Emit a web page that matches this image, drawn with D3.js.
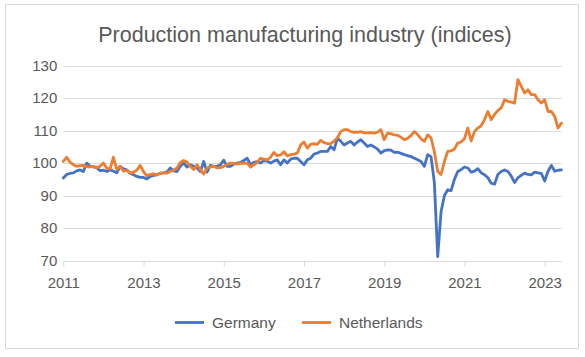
<!DOCTYPE html>
<html>
<head>
<meta charset="utf-8">
<script src="https://cdn.jsdelivr.net/npm/d3@7"></script>
<style>
  html, body { margin: 0; padding: 0; background: #fff; }
  svg { display: block; }
  text { font-family: "Liberation Sans", Arial, sans-serif; }
</style>
</head>
<body>
<svg id="chart" width="585" height="357"></svg>
<script>
// ---- Data (monthly, Jan 2011 .. Jun 2023) ----
const title = "Production manufacturing industry (indices)";
const seriesNames = ["Germany", "Netherlands"];
const seriesColors = ["#4472C4", "#ED7D31"];
const yearLabels = ["2011", "2013", "2015", "2017", "2019", "2021", "2023"];
const yTicks = [70, 80, 90, 100, 110, 120, 130];

const germany = [
  95.4, 96.5, 96.8, 97.0, 97.6, 97.9, 97.4, 100.0, 99.0, 98.8, 98.5, 97.7,
  97.8, 97.4, 97.9, 97.5, 97.0, 99.0, 98.2, 97.9, 96.9, 96.4, 95.9, 95.6,
  95.6, 95.1, 95.9, 96.2, 96.4, 96.9, 97.0, 97.2, 98.5, 97.6, 97.4, 99.0,
  100.0, 98.8, 99.5, 99.0, 98.5, 97.4, 100.5, 97.2, 99.3, 99.0, 99.0, 99.5,
  100.9, 99.0, 99.0, 99.7, 100.0, 100.2, 100.8, 101.5, 99.5, 100.2, 100.5, 100.0,
  100.8, 100.6, 100.0, 100.6, 101.0, 99.5, 101.0, 100.0, 101.2, 101.5, 101.5, 100.5,
  99.5, 101.0, 101.5, 102.8, 103.1, 103.6, 103.6, 103.6, 105.1, 104.1, 107.7, 106.7,
  105.6, 106.2, 106.7, 105.6, 106.5, 107.2, 106.2, 105.1, 105.6, 105.0, 104.3, 103.1,
  103.8, 104.1, 104.0, 103.3, 103.4, 103.0, 102.6, 102.3, 102.0, 101.5, 101.0, 100.5,
  99.0, 102.6, 102.0, 94.0, 71.2, 85.0, 90.0, 91.8, 91.5, 95.0, 97.4, 98.0,
  98.8, 98.5, 97.2, 97.5, 98.3, 97.0, 96.4, 95.5, 93.8, 93.5, 96.5, 97.4,
  97.9, 97.4, 96.0, 94.0, 95.5, 96.2, 96.9, 96.5, 96.4, 97.2, 97.0, 96.8,
  94.5, 97.5, 99.3, 97.5, 97.8, 97.9
];

const netherlands = [
  100.5, 101.8, 100.3, 99.5, 99.0, 99.2, 99.3, 98.9, 98.8, 99.0, 98.6, 99.0,
  100.0, 98.4, 98.2, 101.8, 98.0, 99.0, 97.5, 97.8, 96.9, 97.2, 97.8, 99.3,
  97.4, 96.1, 96.5, 96.7, 96.4, 96.8, 97.0, 96.9, 97.4, 97.8, 98.5, 100.2,
  100.8, 100.3, 99.0, 98.0, 99.5, 98.0, 96.6, 98.5, 98.8, 99.0, 98.5, 98.6,
  99.0, 99.6, 100.0, 99.9, 99.7, 100.0, 99.9, 100.0, 98.8, 99.5, 100.2, 101.5,
  101.2, 101.0, 101.8, 103.3, 102.3, 102.5, 103.5, 102.2, 102.6, 102.8, 103.1, 105.6,
  106.5, 104.6, 105.8, 106.0, 105.8, 107.0, 106.3, 106.0, 106.0, 106.8, 107.8, 109.7,
  110.3, 110.3, 109.7, 109.5, 109.5, 109.7, 109.3, 109.3, 109.4, 109.2, 109.5, 110.3,
  107.2, 109.2, 109.0, 108.7, 108.6, 108.0, 107.2, 107.6, 108.5, 109.7, 108.8, 107.5,
  106.7, 108.7, 107.8, 103.5, 97.4, 96.5, 100.5, 103.6, 103.8, 104.3, 106.2, 106.5,
  107.5, 110.8, 106.8, 109.7, 110.8, 111.5, 113.4, 115.9, 113.4, 115.0, 116.2, 117.0,
  119.5, 119.0, 118.8, 118.5, 125.7, 123.6, 121.6, 122.6, 121.1, 121.1, 119.5, 118.5,
  119.5, 115.9, 115.9, 114.4, 110.8, 112.3
];

// ---- Layout ----
const svg = d3.select("#chart");
const plot = { left: 63.3, right: 561.4, top: 65.7, bottom: 260.5 };

// chart border
svg.append("rect")
  .attr("x", 5.5).attr("y", 4.5)
  .attr("width", 573).attr("height", 344)
  .attr("fill", "#fff").attr("stroke", "#D9D9D9").attr("stroke-width", 1);

// title
svg.append("text")
  .attr("x", 305).attr("y", 42)
  .attr("text-anchor", "middle")
  .attr("font-size", 21.5)
  .attr("fill", "#595959")
  .text(title);

const n = germany.length;
const x = d3.scaleLinear().domain([0, n - 1]).range([plot.left, plot.right]);
const y = d3.scaleLinear().domain([70, 130]).range([plot.bottom, plot.top]);

// gridlines
svg.append("g")
  .selectAll("line")
  .data(yTicks.filter(d => d !== 70))
  .join("line")
  .attr("x1", plot.left).attr("x2", plot.right)
  .attr("y1", d => Math.round(y(d)) + 0.5).attr("y2", d => Math.round(y(d)) + 0.5)
  .attr("stroke", "#D9D9D9").attr("stroke-width", 1);

// y axis labels
const yAxis = d3.axisLeft(y).tickValues(yTicks).tickSize(0).tickPadding(0);
const gy = svg.append("g").attr("transform", `translate(${plot.left - 6},0)`).call(yAxis);
gy.select(".domain").remove();
gy.selectAll("text")
  .attr("font-family", "Liberation Sans, Arial, sans-serif")
  .attr("font-size", 15).attr("fill", "#595959");

// x axis
const xTickIdx = yearLabels.map((_, k) => k * 24);
const xAxis = d3.axisBottom(x)
  .tickValues(xTickIdx)
  .tickFormat((d, k) => yearLabels[k])
  .tickSize(5).tickSizeOuter(0).tickPadding(11);
const gx = svg.append("g").attr("transform", `translate(0,${Math.round(plot.bottom) + 0.5})`).call(xAxis);
gx.select(".domain").attr("stroke", "#D9D9D9").attr("d", `M${plot.left},0H${plot.right}`);
gx.selectAll(".tick line").attr("stroke", "#D9D9D9");
gx.selectAll("text")
  .attr("font-family", "Liberation Sans, Arial, sans-serif")
  .attr("font-size", 15).attr("fill", "#595959");

// lines
const line = d3.line().x((d, i) => x(i)).y(d => y(d));
[germany, netherlands].forEach((data, k) => {
  svg.append("path")
    .datum(data)
    .attr("fill", "none")
    .attr("stroke", seriesColors[k])
    .attr("stroke-width", 2.8)
    .attr("stroke-linejoin", "round")
    .attr("stroke-linecap", "round")
    .attr("d", line);
});

// legend
const legendItems = [
  { name: seriesNames[0], color: seriesColors[0], x0: 175 },
  { name: seriesNames[1], color: seriesColors[1], x0: 302 }
];
const lg = svg.append("g");
legendItems.forEach(it => {
  lg.append("line")
    .attr("x1", it.x0).attr("x2", it.x0 + 29)
    .attr("y1", 322.5).attr("y2", 322.5)
    .attr("stroke", it.color).attr("stroke-width", 2.8);
  lg.append("text")
    .attr("x", it.x0 + 37).attr("y", 322.5)
    .attr("dy", "0.35em")
    .attr("font-size", 15.5).attr("fill", "#595959")
    .text(it.name);
});
</script>
</body>
</html>
